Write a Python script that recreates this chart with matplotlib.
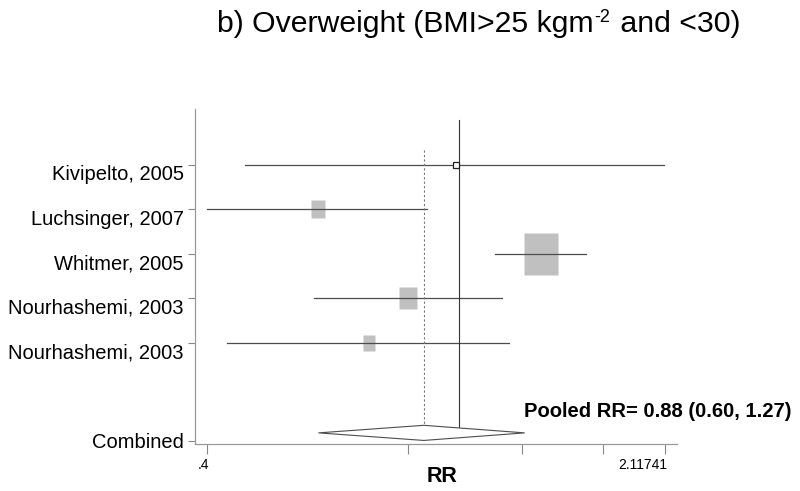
import numpy as np
import matplotlib
matplotlib.use('Agg')
import matplotlib.pyplot as plt
import matplotlib.transforms as mtransforms
from matplotlib.path import Path
from matplotlib.patches import Polygon

plt.rcParams['font.family'] = ['Liberation Sans', 'DejaVu Sans']

# Study data
studies = ['Kivipelto, 2005', 'Luchsinger, 2007', 'Whitmer, 2005',
           'Nourhashemi, 2003', 'Nourhashemi, 2003']
rr = [0.99, 0.60, 1.35, 0.83, 0.72]
lo = [0.46, 0.40, 1.14, 0.59, 0.43]
hi = [2.11, 0.89, 1.59, 1.17, 1.20]
weights = [0.0, 11.9, 63.7, 15.9, 8.4]

pooled_rr = 0.88
pooled_lo = 0.60
pooled_hi = 1.27

xtick_vals = [0.4, 0.83, 1.257, 1.687, 2.11741]
xtick_labels = ['.4', '', '', '', '2.11741']

fig = plt.figure(figsize=(8, 4.91), dpi=100)
ax = fig.add_axes([195 / 800, 47 / 491, 482 / 800, 335 / 491])
ax.set_xscale('log')
ax.set_xlim(0.383, 2.21)
ax.set_ylim(7.27, -0.258)

rows = np.arange(1, len(studies) + 1)
comb_row = 7.02
comb_label_row = 7.2

# confidence intervals
for r, l, h in zip(rows, lo, hi):
    ax.plot([l, h], [r, r], color='#4d4d4d', lw=0.9, zorder=2)

# weighted boxes (taller than wide, like the original)
box = Path([(-0.4, -0.5), (0.4, -0.5), (0.4, 0.5), (-0.4, 0.5), (-0.4, -0.5)],
           [Path.MOVETO, Path.LINETO, Path.LINETO, Path.LINETO, Path.CLOSEPOLY])
for r, x, w in zip(rows, rr, weights):
    if w > 0:
        ms = 5.38 * np.sqrt(w) / 1.389
        ax.plot(x, r, marker=box, ms=ms, color='#c0c0c0', mec='none', zorder=1)
    else:
        ax.plot(x, r, marker='s', ms=5, mfc='white', mec='#222222', mew=0.9, zorder=3)

# null line and pooled estimate line
ax.plot([1, 1], [0.0, comb_row], color='#333333', lw=0.8, zorder=2)
ax.plot([pooled_rr, pooled_rr], [0.66, comb_row - 0.16], color='#777777',
        lw=0.8, ls=(0, (2, 2)), zorder=2)

# pooled diamond
dh = 0.17
diamond = Polygon([(pooled_lo, comb_row), (pooled_rr, comb_row - dh),
                   (pooled_hi, comb_row), (pooled_rr, comb_row + dh)],
                  closed=True, facecolor='white', edgecolor='#4d4d4d', lw=0.8, zorder=3)
ax.add_patch(diamond)

ax.set_yticks(list(rows) + [comb_label_row])
ax.set_yticklabels(studies + ['Combined'], fontsize=14.5)
ax.set_xticks(xtick_vals)
ax.set_xticklabels(xtick_labels, fontsize=10, ha='right')
ax.minorticks_off()
ax.tick_params(axis='both', color='#888888', length=6, width=0.8)
ax.tick_params(axis='y', length=5, pad=3)
ax.tick_params(axis='x', length=7, pad=3)

# study labels sit a little below their ticks in the original
shift = mtransforms.ScaledTranslation(0, -0.08, fig.dpi_scale_trans)
for lab in ax.get_yticklabels()[:-1]:
    lab.set_transform(lab.get_transform() + shift)
xshift = mtransforms.ScaledTranslation(0.02, 0, fig.dpi_scale_trans)
for lab in ax.get_xticklabels():
    lab.set_transform(lab.get_transform() + xshift)

for side in ['top', 'right']:
    ax.spines[side].set_visible(False)
for side in ['left', 'bottom']:
    ax.spines[side].set_color('#999999')
    ax.spines[side].set_linewidth(0.9)

fig.text(442 / 800, 1 - 477 / 491, 'RR', ha='center', va='center',
         fontsize=15.5, fontweight='bold')

# title, with a hyphen superscript built from pieces
renderer = fig.canvas.get_renderer()
ty = 1 - 32 / 491
t1 = fig.text(217 / 800, ty, 'b) Overweight (BMI>25 kgm', ha='left', va='baseline', fontsize=21.8)
x1 = t1.get_window_extent(renderer).x1 / fig.bbox.width
t2 = fig.text(x1 + 1 / 800, ty + 10 / 491, '-2', ha='left', va='baseline', fontsize=13)
x2 = t2.get_window_extent(renderer).x1 / fig.bbox.width
fig.text(x2 + 2 / 800, ty, ' and <30)', ha='left', va='baseline', fontsize=21.8)

fig.text(792 / 800, 1 - 417 / 491,
         'Pooled RR= %.2f (%.2f, %.2f)' % (pooled_rr, pooled_lo, pooled_hi),
         ha='right', va='baseline', fontsize=14.5, fontweight='bold')

fig.savefig('out.png', dpi=100)
